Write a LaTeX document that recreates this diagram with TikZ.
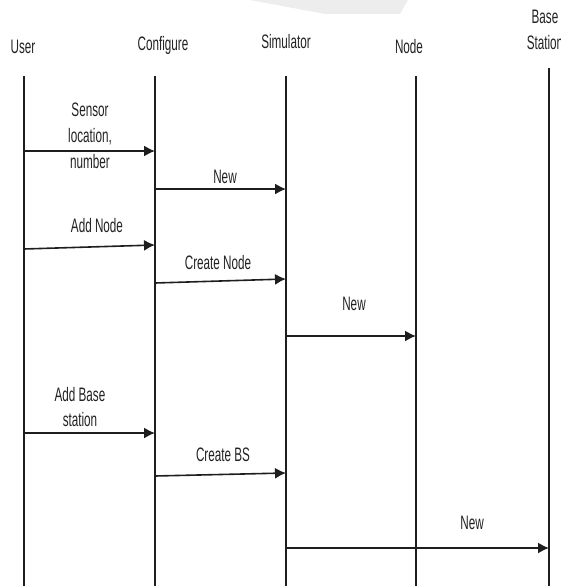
\documentclass[tikz,border=0pt]{standalone}
\usepackage{fontspec}
\setmainfont{Liberation Sans}[FakeStretch=0.6]
\usetikzlibrary{arrows.meta}
\definecolor{ink}{HTML}{1E1E1E}
\definecolor{txt}{HTML}{222222}
\definecolor{smudge}{HTML}{EDEDED}
\begin{document}
\begin{tikzpicture}[x=1pt,y=-1pt,
  lbl/.style={font=\fontsize{19.5}{26}\selectfont, text=txt, inner sep=0pt, align=center},
  life/.style={draw=ink, line width=1.6pt},
  msg/.style={draw=ink, line width=1.6pt, -{Latex[length=11pt,width=11pt]}}]
\useasboundingbox (0,0) rectangle (560,586);
\fill[smudge] (250,0) -- (408,0) -- (400,14) -- (325,14) -- cycle;
% heads
\node[lbl] (user) at (23,47) {User};
\node[lbl] (conf) at (163,45) {Configure};
\node[lbl] (sim) at (286,42) {Simulator};
\node[lbl] (nodeh) at (409,47) {Node};
\node[lbl, font=\fontsize{19.5}{26}\selectfont] (bs) at (545,30) {Base\\Station};
% lifelines
\coordinate (ut) at (24,76);  \coordinate (ub) at (24,586);
\coordinate (ct) at (155,76); \coordinate (cb) at (155,586);
\coordinate (st) at (286,76); \coordinate (sb) at (286,586);
\coordinate (nt) at (416,76); \coordinate (nb) at (416,586);
\coordinate (bt) at (549,68); \coordinate (bb) at (549,586);
\draw[life] (ut) -- (ub);
\draw[life] (ct) -- (cb);
\draw[life] (st) -- (sb);
\draw[life] (nt) -- (nb);
\draw[life] (bt) -- (bb);
% messages
\coordinate (m1a) at (24,151);  \coordinate (m1b) at (155,151);
\coordinate (m2a) at (155,189); \coordinate (m2b) at (286,189);
\coordinate (m3a) at (24,249);  \coordinate (m3b) at (155,245);
\coordinate (m4a) at (155,283); \coordinate (m4b) at (286,279);
\coordinate (m5a) at (286,336); \coordinate (m5b) at (416,336);
\coordinate (m6a) at (24,433);  \coordinate (m6b) at (155,433);
\coordinate (m7a) at (155,476); \coordinate (m7b) at (286,473);
\coordinate (m8a) at (286,548); \coordinate (m8b) at (549,548);
\draw[msg] (m1a) -- (m1b);
\draw[msg] (m2a) -- (m2b);
\draw[msg] (m3a) -- (m3b);
\draw[msg] (m4a) -- (m4b);
\draw[msg] (m5a) -- (m5b);
\draw[msg] (m6a) -- (m6b);
\draw[msg] (m7a) -- (m7b);
\draw[msg] (m8a) -- (m8b);
% labels
\node[lbl] (l1) at (90,136) {Sensor\\location,\\number};
\node[lbl] (l2) at (225,177) {New};
\node[lbl] (l3) at (97,226) {Add Node};
\node[lbl] (l4) at (218,263) {Create Node};
\node[lbl] (l5) at (354,304) {New};
\node[lbl, font=\fontsize{19.5}{25}\selectfont] (l6) at (80,407) {Add Base\\station};
\node[lbl] (l7) at (223,455) {Create BS};
\node[lbl] (l8) at (472,523) {New};
\end{tikzpicture}
\end{document}
